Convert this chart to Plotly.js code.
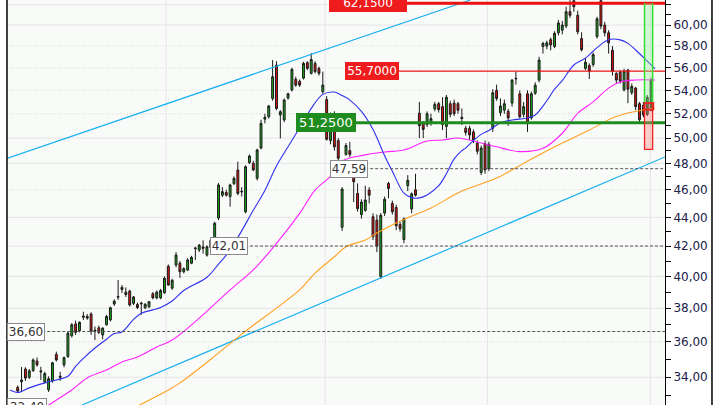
<!DOCTYPE html>
<html><head><meta charset="utf-8">
<script src="https://cdn.plot.ly/plotly-3.0.1.min.js"></script>
<style>html,body{margin:0;padding:0;background:#fff;}#chart{width:720px;height:405px;}</style>
</head><body><div id="chart"></div>
<script>
// ---- candle data ----
const openP = [33.45,33.75,34.45,34.00,34.36,34.90,34.35,33.75,33.32,33.80,35.27,34.05,34.68,35.16,36.35,37.05,36.65,37.45,37.50,37.65,
36.68,36.82,36.40,37.00,37.29,38.26,38.68,39.30,39.00,39.07,38.30,38.23,38.32,38.03,38.10,38.90,38.64,38.64,38.96,40.66,
39.25,40.75,40.86,40.30,40.42,40.86,41.83,41.74,41.95,41.40,41.90,42.54,43.95,45.60,45.80,45.50,46.46,47.49,45.84,44.40,
48.06,48.00,46.86,49.20,51.55,51.75,53.30,56.25,51.90,51.48,53.33,54.03,54.97,54.80,55.07,56.46,55.50,56.40,55.95,53.88,
53.20,49.80,51.50,49.80,43.30,48.70,49.00,47.25,45.73,44.20,44.50,45.98,44.04,43.80,40.00,44.30,46.47,45.00,44.70,43.50,
42.45,46.30,44.60,46.00,52.05,51.20,51.10,51.25,52.40,52.85,52.60,50.95,52.85,52.90,52.85,51.70,50.80,50.80,50.50,49.60,
47.30,49.55,47.60,50.80,54.00,52.10,52.30,52.20,52.90,55.00,53.70,51.95,53.70,51.65,53.75,54.90,57.95,58.00,58.60,57.95,
59.25,59.50,59.90,61.30,62.40,60.95,58.70,55.95,56.20,56.30,58.90,62.40,60.00,59.25,57.60,55.50,55.60,54.05,55.80,53.80,
54.20,52.85,52.70,51.95,52.30];
const highP = [33.55,34.56,34.55,34.45,35.05,35.10,34.58,34.30,34.05,34.85,35.43,34.30,35.15,36.60,37.10,37.25,37.20,37.79,37.65,37.75,
36.90,36.95,36.85,37.60,38.10,38.55,39.77,39.45,39.30,39.15,38.75,38.35,38.40,38.30,38.45,39.00,39.10,39.20,40.00,40.78,
39.85,41.60,41.00,40.60,41.20,41.35,41.96,42.15,42.40,42.05,42.50,43.69,46.50,46.20,46.00,46.45,47.00,48.13,46.20,47.85,
48.70,48.20,49.15,51.50,52.00,52.75,56.70,56.60,52.30,53.30,53.80,56.00,55.20,54.95,56.55,56.60,57.33,56.60,56.10,55.66,
53.50,52.10,52.20,50.00,46.20,49.60,49.70,47.50,46.47,45.30,46.30,46.20,44.28,44.20,44.30,45.50,46.60,45.20,44.90,43.70,
44.00,47.10,45.80,47.20,53.00,51.40,52.20,52.00,53.00,53.00,53.40,53.60,53.10,53.20,53.00,52.45,51.00,51.00,50.70,49.80,
49.40,49.80,49.70,54.10,54.50,53.30,53.20,52.40,55.00,55.65,54.00,53.00,54.00,53.90,54.70,57.00,58.40,58.50,58.80,59.40,
60.50,60.40,61.80,62.45,62.50,61.40,59.30,56.90,56.40,57.40,60.80,62.50,60.30,59.50,58.00,55.60,55.80,55.90,55.90,54.60,
54.30,53.00,53.00,53.60,55.10];
const lowP = [33.15,33.24,33.80,33.90,34.30,34.58,33.85,33.65,33.20,33.70,34.87,33.81,34.55,35.07,36.25,36.40,36.55,37.29,37.30,36.40,
36.10,36.45,36.14,36.95,37.20,38.15,38.51,38.95,38.70,38.10,38.20,37.95,37.60,37.95,38.00,38.55,38.55,38.55,38.90,39.40,
39.15,40.60,39.90,40.20,40.35,40.80,41.08,41.60,41.50,41.30,41.80,42.40,43.80,45.45,45.50,44.76,46.35,45.60,45.50,44.28,
47.95,47.40,46.70,49.10,51.20,51.60,53.10,52.30,49.97,51.30,53.20,53.90,54.30,54.30,54.95,55.80,55.40,55.50,55.30,53.70,
49.80,49.50,49.00,47.60,43.05,48.60,48.50,45.10,44.40,43.90,44.40,45.00,42.42,41.60,39.85,44.10,45.37,44.20,43.10,43.00,
42.20,45.90,44.30,45.50,50.00,50.00,50.90,51.00,52.20,52.10,50.65,50.00,51.70,51.80,52.00,51.07,50.20,49.85,49.60,48.70,
47.10,47.20,47.40,50.50,53.10,51.80,52.00,51.00,52.60,54.50,51.60,51.70,50.50,51.50,53.60,54.70,57.30,57.70,57.60,57.80,
59.00,59.10,59.70,60.70,61.30,59.10,57.50,55.80,55.00,56.10,58.70,59.60,58.90,57.30,55.30,54.60,54.60,53.90,52.90,53.60,
52.30,51.30,51.70,51.80,52.20];
const closeP = [33.25,33.85,33.95,34.35,34.96,34.68,34.30,34.20,33.92,34.80,34.96,34.00,35.09,36.50,37.00,36.55,37.15,37.52,37.40,36.63,
36.62,36.55,36.80,37.50,38.03,38.44,38.72,39.17,38.85,38.20,38.70,38.04,38.28,38.25,38.40,38.64,39.00,39.10,39.88,39.45,
39.75,41.40,40.30,40.50,41.08,41.25,41.87,42.07,41.85,41.96,42.40,43.58,46.36,45.86,45.60,46.36,46.86,45.73,45.88,47.74,
48.57,47.50,49.05,51.20,51.70,52.65,55.20,52.45,52.17,53.16,53.70,55.86,54.46,54.46,56.40,55.95,56.76,55.66,55.50,54.46,
49.90,51.90,49.30,48.40,46.05,49.40,48.70,46.60,44.62,45.10,45.25,45.60,42.65,42.00,44.15,45.30,46.10,44.40,43.40,43.20,
43.90,46.70,45.70,45.60,51.00,50.70,52.00,51.60,52.80,52.35,51.10,53.40,51.95,52.00,52.30,51.60,50.45,50.25,49.85,48.95,
49.20,47.50,49.50,53.80,53.30,52.65,52.85,51.65,54.90,55.05,51.75,52.60,51.20,53.70,54.45,56.70,58.25,58.30,58.10,59.20,
60.20,60.00,61.30,60.95,61.80,59.35,57.65,56.50,55.70,57.20,60.60,59.90,59.25,58.30,55.70,54.90,54.80,55.70,54.10,54.35,
52.60,51.50,51.90,53.40,54.90];
const candleIdx = openP.map((_, i) => i);

// ---- moving averages (candle index / price) ----
const maBlueIdx = [-2,0,3,7,10,13,15,17,20,23,25,27,30,32,35,37,40,43,49,52,54,57,61,64,67,71,74,76,79,82,84,86,89,92,95,97,100,102,104,106,109,111,113,115,116,118,120,122,125,128,132,134,137,139,141,144,147,150,153,156,158,160,163,165];
const maBlueVal = [33.30,33.17,33.42,33.69,33.85,34.05,34.60,35.05,35.64,36.15,36.48,36.57,37.32,37.70,37.90,38.05,38.45,39.10,39.95,40.80,41.40,42.60,44.50,45.95,47.80,49.80,51.35,52.45,53.65,53.85,53.55,53.16,52.20,50.70,48.60,47.40,45.75,45.42,45.40,45.61,46.30,47.20,48.35,49.00,49.20,49.80,50.30,50.62,51.25,51.48,51.65,51.90,53.10,54.10,54.85,56.25,56.88,57.85,58.60,58.58,58.25,57.63,56.60,55.90];
const maPinkIdx = [6,8,14,18,23,27,31,36,40,47,55,61,67,73,77,81,84,90,95,100,106,110,114,117,120,124,130,136,141,145,149,153,156,160,165];
const maPinkVal = [32.20,32.50,33.31,33.96,34.40,34.85,35.13,35.70,36.10,37.40,39.14,40.42,42.19,44.28,45.98,47.00,48.18,48.66,48.89,49.05,49.76,49.84,50.00,49.84,49.60,49.30,48.92,49.18,50.39,52.04,53.00,54.19,54.73,54.91,54.91];
const maOrangeIdx = [30,39,42,50,58,73,77,82,85,90,93,98,103,107,115,124,131,134,141,148,154,158,162,165];
const maOrangeVal = [32.35,33.31,33.69,35.00,36.45,39.14,40.22,41.29,41.96,42.42,42.90,43.60,44.20,44.67,45.90,46.88,48.00,48.50,49.60,50.65,51.65,52.06,52.31,52.48];

// ---- trend channel (candle index / price at its two ends) ----
const trendUpperIdx = [-2.77, 117.2];
const trendUpperVal = [48.39, 62.47];
const trendLowerIdx = [16.66, 167.6];
const trendLowerVal = [32.51, 48.50];

// ---- horizontal levels ----
const levelValues = [62.15, 55.70, 51.25, 47.59, 42.01, 36.60, 32.40];
const levelLabels = ['62,1500', '55,7000', '51,2500', '47,59', '42,01', '36,60', '32,40'];

// ---- price axis ----
const tickValues = [33,34,35,36,37,38,39,40,41,42,43,44,45,46,47,48,49,50,51,52,53,54,55,56,57,58,59,60,61,62];
const tickLabels = ['','34,00','','36,00','','38,00','','40,00','','42,00','','44,00','','46,00','','48,00','','50,00','','52,00','','54,00','','56,00','','58,00','','60,00','','62,00'];
const gridSolid = [34, 38, 40, 42, 44, 48, 50, 60, 62];
const gridDotted = [36, 46, 52, 54, 56, 58];
const gridVertical = [38.4, 79.6, 121.6, 163.8];

// ---- target / stop zone on the last bars ----
const zoneIdx = [162.3, 164.4];
const zoneTarget = [52.9, 62.15];
const zoneStop = [49.1, 52.9];
const zoneEntry = [52.35, 52.9];

// ---- styles / layout ----
const X_RANGE = [-2.77, 167.6];
const Y_MIN = 32.51, Y_MAX = 62.47;
const yr = [Math.log10(Y_MIN), Math.log10(Y_MAX)];
const yPaper = v => (Math.log10(v) - yr[0]) / (yr[1] - yr[0]);

const levelStyle = [
  {start: 80.6, color: '#ee1111', width: 3, dash: 'solid', bg: '#ee1c1c', fc: '#ffffff', border: '#ee1c1c', fs: 12, w: 74},
  {start: 84.8, color: '#ee1111', width: 1.3, dash: 'solid', bg: '#ee1c1c', fc: '#ffffff', border: '#ee1c1c', fs: 12, w: 50},
  {start: 72.1, color: '#1e8c1e', width: 3, dash: 'solid', bg: '#1e8c1e', fc: '#ffffff', border: '#1e8c1e', fs: 13, w: 56},
  {start: 80.9, color: '#555555', width: 1, dash: '3px,2px', bg: '#ffffff', fc: '#333333', border: '#8a8a8a', fs: 12, w: 34},
  {start: 49.8, color: '#555555', width: 1, dash: '3px,2px', bg: '#ffffff', fc: '#333333', border: '#8a8a8a', fs: 12, w: 34},
  {start: -2.7, color: '#555555', width: 1, dash: '3px,2px', bg: '#ffffff', fc: '#333333', border: '#8a8a8a', fs: 12, w: 34},
  {start: -2.7, color: '#555555', width: 1, dash: '3px,2px', bg: '#ffffff', fc: '#333333', border: '#8a8a8a', fs: 12, w: 36}
];

const traces = [];
traces.push({type: 'scatter', mode: 'lines', x: trendUpperIdx, y: trendUpperVal, line: {color: '#1ab0f0', width: 1.2}, hoverinfo: 'skip'});
traces.push({type: 'scatter', mode: 'lines', x: trendLowerIdx, y: trendLowerVal, line: {color: '#1ab0f0', width: 1.2}, hoverinfo: 'skip'});
traces.push({type: 'scatter', mode: 'lines', x: maOrangeIdx, y: maOrangeVal, line: {color: '#ffa020', width: 1.1, shape: 'spline'}, hoverinfo: 'skip'});
traces.push({type: 'scatter', mode: 'lines', x: maPinkIdx, y: maPinkVal, line: {color: '#ff20ff', width: 1.1, shape: 'spline'}, hoverinfo: 'skip'});
traces.push({type: 'scatter', mode: 'lines', x: maBlueIdx, y: maBlueVal, line: {color: '#3030ee', width: 1.1, shape: 'spline'}, hoverinfo: 'skip'});
levelValues.forEach((v, k) => {
  const s = levelStyle[k];
  traces.push({type: 'scatter', mode: 'lines', x: [s.start, X_RANGE[1]], y: [v, v], line: {color: s.color, width: s.width, dash: s.dash}, hoverinfo: 'skip'});
});
traces.push({
  type: 'candlestick', x: candleIdx, open: openP, high: highP, low: lowP, close: closeP,
  increasing: {line: {color: '#1a1a1a', width: 1}, fillcolor: '#18a818'},
  decreasing: {line: {color: '#1a1a1a', width: 1}, fillcolor: '#e01010'},
  whiskerwidth: 0, hoverinfo: 'skip'
});

const shapes = [];
gridSolid.forEach(v => shapes.push({type: 'line', xref: 'paper', x0: 0, x1: 1, yref: 'y', y0: v, y1: v, line: {color: '#e4e4e4', width: 1}, layer: 'below'}));
gridDotted.forEach(v => shapes.push({type: 'line', xref: 'paper', x0: 0, x1: 1, yref: 'y', y0: v, y1: v, line: {color: '#d6d6d6', width: 1, dash: '1px,2px'}, layer: 'below'}));
gridVertical.forEach(v => shapes.push({type: 'line', xref: 'x', x0: v, x1: v, yref: 'paper', y0: 0, y1: 1, line: {color: '#e4e4e4', width: 1}, layer: 'below'}));
// zones
shapes.push({type: 'rect', xref: 'x', x0: zoneIdx[0], x1: zoneIdx[1], yref: 'y', y0: zoneTarget[0], y1: zoneTarget[1], fillcolor: 'rgba(150,240,150,0.35)', line: {width: 0}});
shapes.push({type: 'line', xref: 'x', x0: zoneIdx[0], x1: zoneIdx[0], yref: 'y', y0: zoneTarget[0], y1: zoneTarget[1], line: {color: '#33dd33', width: 1.5}});
shapes.push({type: 'line', xref: 'x', x0: zoneIdx[1], x1: zoneIdx[1], yref: 'y', y0: zoneTarget[0], y1: zoneTarget[1], line: {color: '#33dd33', width: 1.5}});
shapes.push({type: 'rect', xref: 'x', x0: zoneIdx[0], x1: zoneIdx[1], yref: 'y', y0: zoneStop[0], y1: zoneStop[1], fillcolor: 'rgba(255,120,120,0.35)', line: {color: '#ee2222', width: 1.3}});
shapes.push({type: 'rect', xref: 'x', x0: zoneIdx[0], x1: zoneIdx[1] + 0.2, yref: 'y', y0: zoneEntry[0], y1: zoneEntry[1], fillcolor: 'rgba(0,0,0,0)', line: {color: '#ee2222', width: 1.6}});
// frame lines
shapes.push({type: 'line', xref: 'paper', x0: 0, x1: 0, yref: 'paper', y0: 0, y1: 1, line: {color: '#000', width: 1.5}});
shapes.push({type: 'line', xref: 'paper', x0: 1.0714, x1: 1.0714, yref: 'paper', y0: 0, y1: 1, line: {color: '#000', width: 1.5}});

const annotations = levelValues.map((v, k) => {
  const s = levelStyle[k];
  return {xref: 'x', x: s.start, xanchor: 'left', yref: 'paper', y: yPaper(v), yanchor: 'middle',
    text: levelLabels[k], showarrow: false, bgcolor: s.bg, bordercolor: s.border, borderwidth: 1, borderpad: 1,
    width: s.w, align: 'center', font: {family: 'DejaVu Sans', size: s.fs, color: s.fc}};
});

const layout = {
  width: 720, height: 405,
  margin: {l: 7, r: 55, t: 0, b: 0, pad: 0},
  paper_bgcolor: '#ffffff', plot_bgcolor: '#f9fbf9',
  showlegend: false, hovermode: false,
  xaxis: {range: X_RANGE, visible: false, rangeslider: {visible: false}, fixedrange: true},
  yaxis: {type: 'log', range: yr, side: 'right', showgrid: false, zeroline: false,
    showline: true, linecolor: '#000', linewidth: 1,
    ticks: 'outside', ticklen: 5, tickcolor: '#000', tickwidth: 1,
    tickmode: 'array', tickvals: tickValues, ticktext: tickLabels,
    tickfont: {family: 'DejaVu Sans', size: 12, color: '#20204a'}, fixedrange: true},
  shapes: shapes, annotations: annotations
};
Plotly.newPlot('chart', traces, layout, {staticPlot: true, displayModeBar: false});
</script>
</body></html>
